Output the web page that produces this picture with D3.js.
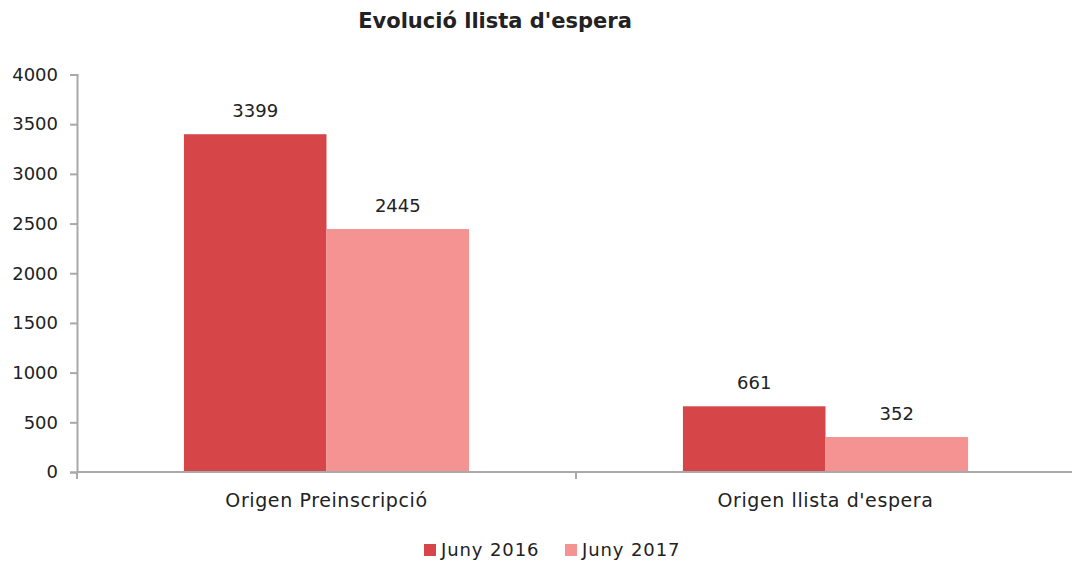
<!DOCTYPE html>
<html>
<head>
<meta charset="utf-8">
<script src="https://cdn.jsdelivr.net/npm/d3@7"></script>
<style>
  html, body { margin: 0; background: #fff; overflow: hidden; }
  svg { display: block; }
  svg text { font-family: "DejaVu Sans", sans-serif; fill: #222; }
</style>
</head>
<body>
<div id="chart"></div>
<script>
// chart data
var categories = ["Origen Preinscripció", "Origen llista d'espera"];
var seriesNames = ["Juny 2016", "Juny 2017"];
var values2016 = [3399, 661];
var values2017 = [2445, 352];
var yTicks = [0, 500, 1000, 1500, 2000, 2500, 3000, 3500, 4000];

var colors = ["#d64547", "#f59393"];

var svgWidth = 1072;
var svgHeight = 563;

var margin = { top: 74.5, right: -3, bottom: 91, left: 77 };
var width = svgWidth - margin.left - margin.right;
var height = svgHeight - margin.top - margin.bottom;

var svg = d3.select("#chart")
  .append("svg")
  .attr("width", svgWidth)
  .attr("height", svgHeight);

var chartGroup = svg.append("g")
  .attr("transform", `translate(${margin.left}, ${margin.top})`);

var rows = categories.map(function(c, i) {
  return { cat: c, vals: [values2016[i], values2017[i]] };
});

// scales
var x0 = d3.scaleBand()
  .domain(categories)
  .range([0, width])
  .padding(0);

var x1 = d3.scaleBand()
  .domain(seriesNames)
  .range([0, x0.bandwidth()])
  .paddingInner(0)
  .paddingOuter(0.75);

var y = d3.scaleLinear()
  .domain([0, 4000])
  .range([height, 0]);

// y axis
var leftAxis = d3.axisLeft(y)
  .tickValues(yTicks)
  .tickFormat(d3.format("d"))
  .tickSize(7)
  .tickPadding(12);
var yAxisG = chartGroup.append("g").call(leftAxis);
yAxisG.selectAll("text").style("font-size", "18px");

// x axis with ticks on the category boundaries
var xAxisG = chartGroup.append("g").attr("transform", `translate(0, ${height})`);
xAxisG.selectAll(".tickline")
  .data(categories.concat(["end"]))
  .enter()
  .append("line")
  .attr("x1", (d, i) => i * x0.step())
  .attr("x2", (d, i) => i * x0.step())
  .attr("y1", 0).attr("y2", 7);
xAxisG.selectAll(".cat")
  .data(categories)
  .enter()
  .append("text")
  .attr("x", d => x0(d) + x0.bandwidth() / 2)
  .attr("y", 35)
  .attr("text-anchor", "middle")
  .style("font-size", "19px")
  .style("letter-spacing", "0.6px")
  .text(d => d);

svg.selectAll(".domain, .tick line, line").attr("stroke", "#a9a9a9").attr("stroke-width", 2);

// baseline across the full width
svg.append("rect")
  .attr("x", margin.left)
  .attr("y", margin.top + height - 1)
  .attr("width", svgWidth - margin.left)
  .attr("height", 2)
  .attr("fill", "#a9a9a9");

// bars
var groups = chartGroup.selectAll(".group")
  .data(rows)
  .enter()
  .append("g")
  .attr("transform", d => `translate(${x0(d.cat)}, 0)`);

groups.selectAll("rect")
  .data(d => d.vals.map((v, i) => ({ name: seriesNames[i], value: v, idx: i })))
  .enter()
  .append("rect")
  .attr("x", d => x1(d.name))
  .attr("y", d => y(d.value))
  .attr("width", x1.bandwidth())
  .attr("height", d => height - y(d.value) - 1)
  .attr("fill", d => colors[d.idx]);

// value labels
groups.selectAll(".val")
  .data(d => d.vals.map((v, i) => ({ name: seriesNames[i], value: v })))
  .enter()
  .append("text")
  .attr("x", d => x1(d.name) + x1.bandwidth() / 2)
  .attr("y", d => y(d.value) - 17)
  .attr("text-anchor", "middle")
  .style("font-size", "18px")
  .text(d => d.value);

// title
svg.append("text")
  .attr("x", 495)
  .attr("y", 28)
  .attr("text-anchor", "middle")
  .style("font-size", "21px")
  .style("font-weight", "bold")
  .text("Evolució llista d'espera");

// legend
var legend = svg.append("g").attr("transform", "translate(424, 544)");
var legendX = [0, 141];
seriesNames.forEach(function(name, i) {
  legend.append("rect")
    .attr("x", legendX[i]).attr("y", 0)
    .attr("width", 12).attr("height", 12)
    .attr("fill", colors[i]);
  legend.append("text")
    .attr("x", legendX[i] + 17)
    .attr("y", 12)
    .style("font-size", "18px")
    .style("letter-spacing", "0.9px")
    .text(name);
});
</script>
</body>
</html>
